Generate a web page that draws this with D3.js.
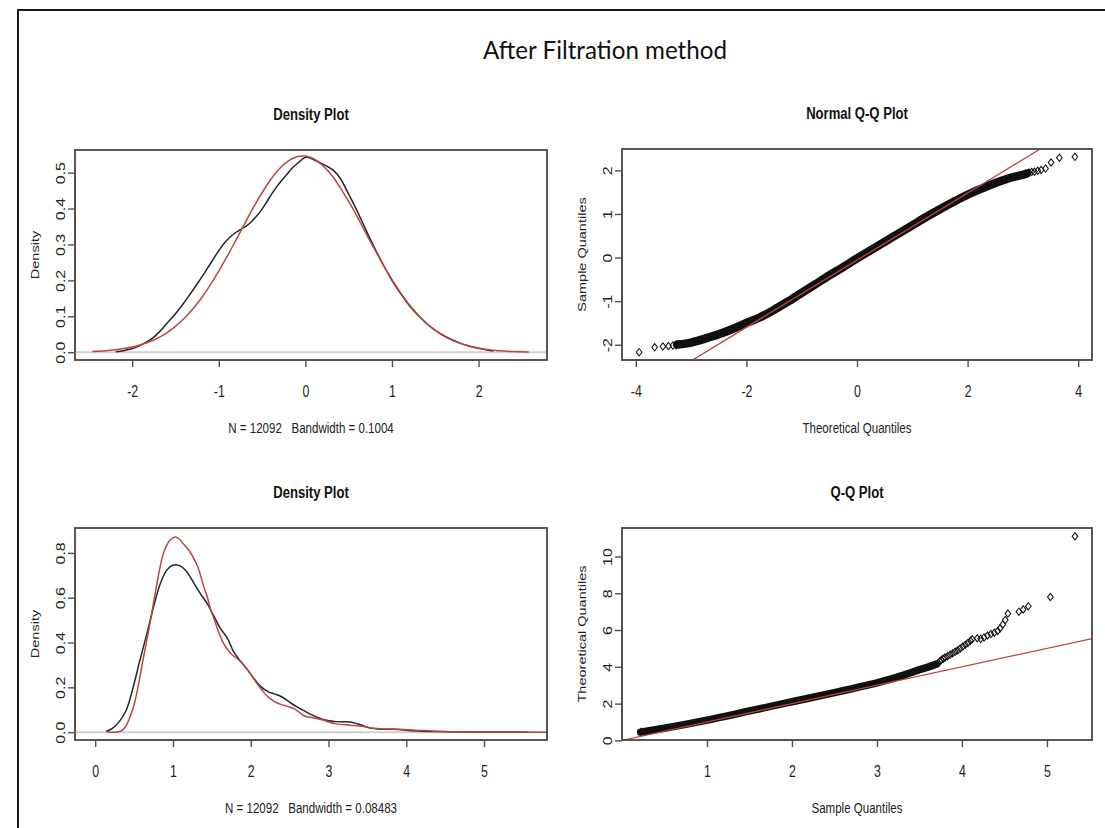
<!DOCTYPE html>
<html>
<head>
<meta charset="utf-8">
<script src="https://cdn.jsdelivr.net/npm/d3@7"></script>
<style>
  html, body { margin: 0; padding: 0; background: #fff; }
  svg { display: block; }
  text { white-space: pre; }
</style>
</head>
<body>
<svg id="chart" width="1105" height="828"></svg>
<script>
// ---------- data ----------
// Upper density: kernel estimate (black) and fitted normal curve (red), [x, density]
const kdeTopKernel = [
  [-2.19,0.001],[-2.10,0.004],[-2.03,0.008],[-1.95,0.014],[-1.875,0.023],[-1.76,0.040],
  [-1.68,0.058],[-1.60,0.080],[-1.50,0.107],[-1.41,0.135],[-1.33,0.162],[-1.25,0.190],
  [-1.17,0.219],[-1.09,0.249],[-1.00,0.283],[-0.92,0.308],[-0.86,0.323],[-0.80,0.334],
  [-0.74,0.343],[-0.68,0.352],[-0.63,0.362],[-0.57,0.377],[-0.51,0.395],[-0.45,0.417],
  [-0.39,0.440],[-0.33,0.461],[-0.27,0.479],[-0.21,0.496],[-0.16,0.511],[-0.08,0.528],
  [0.00,0.543],[0.06,0.540],[0.12,0.533],[0.20,0.524],[0.27,0.515],[0.33,0.505],
  [0.40,0.485],[0.50,0.440],[0.60,0.392],[0.70,0.340],[0.80,0.290],[0.90,0.243],
  [1.00,0.200],[1.10,0.163],[1.20,0.130],[1.30,0.103],[1.40,0.080],[1.50,0.061],
  [1.60,0.046],[1.70,0.034],[1.80,0.024],[1.90,0.017],[2.00,0.011],[2.10,0.006],[2.17,0.003]
];
const kdeTopFit = [
  [-2.46,0.002],[-2.30,0.004],[-2.20,0.0066],[-2.10,0.010],[-2.00,0.0143],[-1.90,0.021],
  [-1.80,0.029],[-1.70,0.040],[-1.60,0.054],[-1.50,0.072],[-1.40,0.094],[-1.30,0.120],
  [-1.20,0.151],[-1.10,0.187],[-1.00,0.226],[-0.90,0.268],[-0.80,0.313],[-0.70,0.358],
  [-0.60,0.403],[-0.50,0.444],[-0.40,0.481],[-0.30,0.511],[-0.20,0.532],[-0.10,0.544],
  [-0.03,0.5465],[0.00,0.546],[0.10,0.538],[0.20,0.520],[0.30,0.494],[0.40,0.459],
  [0.50,0.420],[0.60,0.377],[0.70,0.331],[0.80,0.286],[0.90,0.243],[1.00,0.202],
  [1.10,0.165],[1.20,0.132],[1.30,0.104],[1.40,0.080],[1.50,0.061],[1.60,0.045],
  [1.70,0.033],[1.80,0.024],[1.90,0.016],[2.00,0.011],[2.10,0.0075],[2.20,0.005],
  [2.30,0.0033],[2.40,0.0021],[2.58,0.0009]
];
const kdeTopXTicks = [-2, -1, 0, 1, 2];
const kdeTopYTicks = [0, 0.1, 0.2, 0.3, 0.4, 0.5];
const kdeTopCaption = "N = 12092   Bandwidth = 0.1004";

// Normal Q-Q: dense run of points (as a band), isolated tail points, reference line
const qqNormBand = [
  [-3.25,-1.995],[-3.00,-1.95],[-2.75,-1.86],[-2.50,-1.76],[-2.25,-1.64],[-2.00,-1.50],
  [-1.75,-1.37],[-1.50,-1.20],[-1.25,-1.01],[-1.00,-0.81],[-0.75,-0.61],[-0.50,-0.41],
  [-0.25,-0.22],[0.00,-0.02],[0.25,0.17],[0.50,0.36],[0.75,0.55],[1.00,0.74],
  [1.25,0.93],[1.50,1.11],[1.75,1.28],[2.00,1.44],[2.25,1.58],[2.50,1.71],
  [2.75,1.82],[3.00,1.90],[3.07,1.93]
];
const qqNormTail = [
  [-3.94,-2.17],[-3.66,-2.06],[-3.51,-2.04],[-3.41,-2.03],[-3.33,-2.02],[-3.27,-2.01],
  [3.11,1.95],[3.16,1.96],[3.21,1.97],[3.27,1.99],[3.33,2.01],[3.41,2.04],
  [3.51,2.18],[3.66,2.29],[3.94,2.31]
];
const qqNormLine = [[-3.10,-2.447],[3.40,2.558]];
const qqNormXTicks = [-4, -2, 0, 2, 4];
const qqNormYTicks = [-2, -1, 0, 1, 2];

// Lower density: kernel estimate (black) and fitted curve (red)
const kdeBotKernel = [
  [0.14,0.003],[0.225,0.018],[0.31,0.047],[0.40,0.099],[0.485,0.196],[0.57,0.315],
  [0.66,0.433],[0.745,0.552],[0.83,0.656],[0.92,0.723],[1.00,0.745],[1.09,0.742],
  [1.18,0.715],[1.26,0.671],[1.35,0.619],[1.44,0.574],[1.52,0.522],[1.61,0.463],
  [1.70,0.419],[1.78,0.359],[1.87,0.315],[1.96,0.278],[2.04,0.240],[2.13,0.203],
  [2.22,0.181],[2.30,0.171],[2.39,0.159],[2.52,0.129],[2.60,0.112],[2.69,0.095],
  [2.80,0.075],[2.92,0.058],[3.01,0.051],[3.10,0.047],[3.20,0.046],[3.28,0.045],
  [3.41,0.033],[3.54,0.018],[3.68,0.013],[3.90,0.012],[4.03,0.007],[4.20,0.004],
  [4.34,0.003],[4.60,0.002],[5.00,0.001],[5.57,0.000]
];
const kdeBotFit = [
  [0.16,0.000],[0.27,0.000],[0.32,0.004],[0.355,0.010],[0.40,0.030],[0.44,0.062],
  [0.49,0.110],[0.53,0.166],[0.57,0.238],[0.61,0.315],[0.655,0.395],[0.70,0.478],
  [0.745,0.567],[0.79,0.656],[0.83,0.730],[0.87,0.790],[0.92,0.835],[0.96,0.856],
  [1.03,0.871],[1.08,0.862],[1.13,0.842],[1.22,0.804],[1.31,0.745],[1.35,0.705],
  [1.39,0.656],[1.44,0.605],[1.48,0.552],[1.53,0.505],[1.57,0.463],[1.65,0.396],
  [1.74,0.352],[1.87,0.315],[1.96,0.278],[2.04,0.237],[2.13,0.194],[2.20,0.165],
  [2.30,0.137],[2.38,0.125],[2.48,0.114],[2.56,0.105],[2.62,0.090],[2.69,0.072],
  [2.74,0.068],[2.83,0.062],[2.92,0.055],[3.01,0.045],[3.10,0.037],[3.28,0.031],
  [3.45,0.025],[3.63,0.016],[3.90,0.013],[4.12,0.009],[4.48,0.003],[4.80,0.001],[5.90,0.000]
];
const kdeBotXTicks = [0, 1, 2, 3, 4, 5];
const kdeBotYTicks = [0, 0.2, 0.4, 0.6, 0.8];
const kdeBotCaption = "N = 12092   Bandwidth = 0.08483";

// Q-Q plot: dense run (band), individual upper points, identity reference line
const qqBotBand = [
  [0.22,0.45],[0.50,0.66],[1.00,1.10],[1.50,1.60],[2.00,2.10],[2.50,2.60],
  [3.00,3.13],[3.20,3.38],[3.35,3.60],[3.50,3.85],[3.60,3.98],[3.70,4.15]
];
const qqBotPoints = [
  [0.22,0.45],[3.72,4.20],[3.74,4.30],[3.76,4.38],[3.78,4.44],[3.80,4.50],[3.83,4.58],
  [3.86,4.66],[3.89,4.74],[3.92,4.82],[3.95,4.90],[3.98,5.00],[4.01,5.10],
  [4.04,5.20],[4.07,5.30],[4.10,5.42],[4.12,5.50],[4.18,5.55],[4.22,5.52],
  [4.26,5.60],[4.30,5.70],[4.34,5.78],[4.38,5.85],[4.42,5.95],[4.45,6.10],
  [4.48,6.30],[4.51,6.55],[4.54,6.90],[4.67,7.00],[4.72,7.12],[4.78,7.30],
  [5.04,7.80],[5.33,11.10]
];
const qqBotLine = [[0, 0], [6, 6]];
const qqBotXTicks = [1, 2, 3, 4, 5];
const qqBotYTicks = [0, 2, 4, 6, 8, 10];

// ---------- drawing ----------
const W = 1105, H = 828;
const SQ = 0.77;                      // horizontal squeeze of the plot lettering
const FONT = "'Liberation Sans', Arial, Helvetica, sans-serif";
const INK = "#222", FRAME = "#505050", RED = "#bf4343";

const svg = d3.select("#chart");
svg.append("rect").attr("width", W).attr("height", H).attr("fill", "#fff");

// slide frame and heading
svg.append("path").attr("d", `M18,${H} V10 H${W}`)
  .attr("fill", "none").attr("stroke", "#1c1c1c").attr("stroke-width", 2);
svg.append("text").attr("transform", "translate(605,59) scale(0.93,1)").attr("text-anchor", "middle")
  .style("font-family", "Lato, 'Open Sans', sans-serif").style("font-size", "26px")
  .attr("fill", "#111").text("After Filtration method");

const defs = svg.append("defs");
let clipCount = 0;

function hText(g, x, y, str, size, bold) {
  return g.append("text")
    .attr("transform", `translate(${x},${y}) scale(${SQ},1)`)
    .attr("text-anchor", "middle")
    .style("font-family", FONT).style("font-size", size + "px")
    .style("font-weight", bold ? "bold" : "normal")
    .attr("fill", bold ? "#111" : INK).text(str);
}
function vText(g, x, y, str, size) {
  return g.append("text")
    .attr("transform", `translate(${x},${y}) rotate(-90) scale(1,${SQ})`)
    .attr("text-anchor", "middle")
    .style("font-family", FONT).style("font-size", size + "px")
    .attr("fill", INK).text(str);
}

function panel(cfg) {
  const g = svg.append("g");
  const x = d3.scaleLinear().domain(cfg.xDomain).range([cfg.left, cfg.right]);
  const y = d3.scaleLinear().domain(cfg.yDomain).range([cfg.bottom, cfg.top]);

  const id = "clip" + (clipCount++);
  defs.append("clipPath").attr("id", id).append("rect")
    .attr("x", cfg.left).attr("y", cfg.top)
    .attr("width", cfg.right - cfg.left).attr("height", cfg.bottom - cfg.top);

  // axes (ticks from d3, labels squeezed to the plot lettering)
  const xa = g.append("g").attr("transform", `translate(0,${cfg.bottom})`)
    .call(d3.axisBottom(x).tickValues(cfg.xTicks).tickSize(7).tickSizeOuter(0).tickFormat(cfg.xFormat));
  const ya = g.append("g").attr("transform", `translate(${cfg.left},0)`)
    .call(d3.axisLeft(y).tickValues(cfg.yTicks).tickSize(7).tickSizeOuter(0).tickFormat(cfg.yFormat));
  [xa, ya].forEach(a => {
    a.select(".domain").remove();
    a.selectAll(".tick line").attr("stroke", FRAME).attr("stroke-width", 1.4);
    a.selectAll(".tick text").style("font-family", FONT).style("font-size", "16px").attr("fill", INK);
  });
  xa.selectAll(".tick text")
    .attr("y", 0).attr("dy", 0)
    .attr("transform", `translate(0,37) scale(${SQ},1)`);
  ya.selectAll(".tick text")
    .attr("x", 0).attr("dy", 0).attr("text-anchor", "middle")
    .attr("transform", `translate(-10,0) rotate(-90) scale(1,${SQ})`);

  // axis lines spanning first to last tick
  const xt = cfg.xTicks, yt = cfg.yTicks;
  g.append("line").attr("x1", x(xt[0])).attr("x2", x(xt[xt.length - 1]))
    .attr("y1", cfg.bottom).attr("y2", cfg.bottom).attr("stroke", FRAME).attr("stroke-width", 1.4);
  g.append("line").attr("y1", y(yt[0])).attr("y2", y(yt[yt.length - 1]))
    .attr("x1", cfg.left).attr("x2", cfg.left).attr("stroke", FRAME).attr("stroke-width", 1.4);

  const plot = g.append("g").attr("clip-path", `url(#${id})`);
  cfg.draw(plot, x, y);

  // plot box
  g.append("rect").attr("x", cfg.left).attr("y", cfg.top)
    .attr("width", cfg.right - cfg.left).attr("height", cfg.bottom - cfg.top)
    .attr("fill", "none").attr("stroke", FRAME).attr("stroke-width", 1.9);

  const cx = (cfg.left + cfg.right) / 2, cy = (cfg.top + cfg.bottom) / 2;
  hText(g, cx, cfg.top - 30, cfg.title, 17, true);
  hText(g, cx, cfg.bottom + 73, cfg.xLabel, 15, false);
  vText(g, cfg.left - 36, cy, cfg.yLabel, 14.5);
}

const curve = d3.curveCatmullRom.alpha(0.5);

function densityLayer(kernel, fit) {
  return (p, x, y) => {
    p.append("line").attr("x1", x.range()[0]).attr("x2", x.range()[1])
      .attr("y1", y(0)).attr("y2", y(0)).attr("stroke", "#cfcfcf").attr("stroke-width", 2);
    const line = d3.line().x(d => x(d[0])).y(d => y(d[1])).curve(curve);
    p.append("path").datum(kernel).attr("d", line)
      .attr("fill", "none").attr("stroke", "#262626").attr("stroke-width", 1.5);
    p.append("path").datum(fit).attr("d", line)
      .attr("fill", "none").attr("stroke", RED).attr("stroke-width", 1.5);
  };
}

const diamond = d3.symbol().type(d3.symbolSquare).size(22);
function qqLayer(band, pts, ref, bandWidth) {
  return (p, x, y) => {
    const line = d3.line().x(d => x(d[0])).y(d => y(d[1])).curve(curve);
    p.append("path").datum(band).attr("d", line)
      .attr("fill", "none").attr("stroke", "#101010").attr("stroke-width", bandWidth)
      .attr("stroke-linecap", "round").attr("stroke-linejoin", "round");
    p.selectAll("path.pt").data(pts).join("path").attr("class", "pt")
      .attr("d", diamond)
      .attr("transform", d => `translate(${x(d[0])},${y(d[1])}) scale(0.85,1.1) rotate(45)`)
      .attr("fill", "none").attr("stroke", "#111").attr("stroke-width", 1.1);
    p.append("path").datum(ref).attr("d", d3.line().x(d => x(d[0])).y(d => y(d[1])))
      .attr("fill", "none").attr("stroke", RED).attr("stroke-width", 1.3);
  };
}

const fmt1 = d3.format(".1f");
const fmtInt = d => String(d);

panel({
  left: 75, right: 547, top: 150, bottom: 360,
  xDomain: [-2.66, 2.79], yDomain: [-0.0217, 0.563],
  xTicks: kdeTopXTicks, yTicks: kdeTopYTicks, xFormat: fmtInt, yFormat: fmt1,
  title: "Density Plot", xLabel: kdeTopCaption, yLabel: "Density",
  draw: densityLayer(kdeTopKernel, kdeTopFit)
});

panel({
  left: 622, right: 1092, top: 149, bottom: 360,
  xDomain: [-4.25, 4.25], yDomain: [-2.35, 2.49],
  xTicks: qqNormXTicks, yTicks: qqNormYTicks, xFormat: fmtInt, yFormat: fmtInt,
  title: "Normal Q-Q Plot", xLabel: "Theoretical Quantiles", yLabel: "Sample Quantiles",
  draw: qqLayer(qqNormBand, qqNormTail, qqNormLine, 8.5)
});

panel({
  left: 75, right: 547, top: 528, bottom: 740,
  xDomain: [-0.26, 5.81], yDomain: [-0.035, 0.911],
  xTicks: kdeBotXTicks, yTicks: kdeBotYTicks, xFormat: fmtInt, yFormat: fmt1,
  title: "Density Plot", xLabel: kdeBotCaption, yLabel: "Density",
  draw: densityLayer(kdeBotKernel, kdeBotFit)
});

panel({
  left: 622, right: 1092, top: 528, bottom: 740,
  xDomain: [0.0, 5.53], yDomain: [0.02, 11.55],
  xTicks: qqBotXTicks, yTicks: qqBotYTicks, xFormat: fmtInt, yFormat: fmtInt,
  title: "Q-Q Plot", xLabel: "Sample Quantiles", yLabel: "Theoretical Quantiles",
  draw: qqLayer(qqBotBand, qqBotPoints, qqBotLine, 7.5)
});
</script>
</body>
</html>
